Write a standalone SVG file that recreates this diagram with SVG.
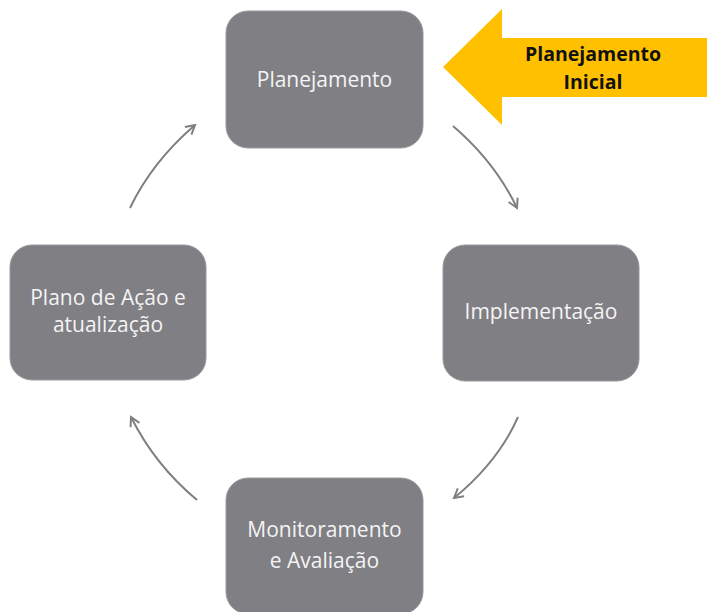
<svg xmlns="http://www.w3.org/2000/svg" width="707" height="612" viewBox="0 0 707 612">
<style>
.box{fill:#807f84;stroke:#9a999d;stroke-width:1}
.lbl{font-family:"Open Sans","Noto Sans",sans-serif;font-size:21px;fill:#f4f4f4;text-anchor:middle}
.call{font-family:"Open Sans","Noto Sans",sans-serif;font-size:19.5px;font-weight:bold;fill:#111;text-anchor:middle}
.con{fill:none;stroke:#7f7f82;stroke-width:2}
</style>
<defs>
<marker id="ah" viewBox="0 0 12 12" refX="10" refY="6" markerWidth="12" markerHeight="12" markerUnits="userSpaceOnUse" orient="auto">
<path d="M1,1 L10,6 L1,11" fill="none" stroke="#7f7f82" stroke-width="2" stroke-linejoin="miter"/>
</marker>
</defs>
<rect width="707" height="612" fill="#fff"/>
<g id="callout">
<polygon points="443,67 502,9 502,38 707,38 707,97 502,97 502,125" fill="#ffc000"/>
<text class="call" x="593" y="61">Planejamento</text>
<text class="call" x="593" y="89">Inicial</text>
</g>
<g id="connectors">
<path class="con" d="M453,126 Q495,162 517,208" marker-end="url(#ah)"/>
<path class="con" d="M518,417 Q498,462 454,498" marker-end="url(#ah)"/>
<path class="con" d="M197,500 Q155,465 131,417" marker-end="url(#ah)"/>
<path class="con" d="M130,208 Q152,162 195,125" marker-end="url(#ah)"/>
</g>
<g id="planejamento">
<rect class="box" x="226" y="11" width="197" height="137" rx="22"/>
<text class="lbl" x="324.5" y="87">Planejamento</text>
</g>
<g id="implementacao">
<rect class="box" x="443" y="245" width="196" height="136" rx="22"/>
<text class="lbl" x="541" y="319">Implementação</text>
</g>
<g id="monitoramento">
<rect class="box" x="226" y="478" width="197" height="136" rx="22"/>
<text class="lbl" x="324.5" y="537">Monitoramento</text>
<text class="lbl" x="324.5" y="568">e Avaliação</text>
</g>
<g id="plano">
<rect class="box" x="10" y="245" width="196" height="135" rx="22"/>
<text class="lbl" x="108" y="305">Plano de Ação e</text>
<text class="lbl" x="108" y="332">atualização</text>
</g>
</svg>
